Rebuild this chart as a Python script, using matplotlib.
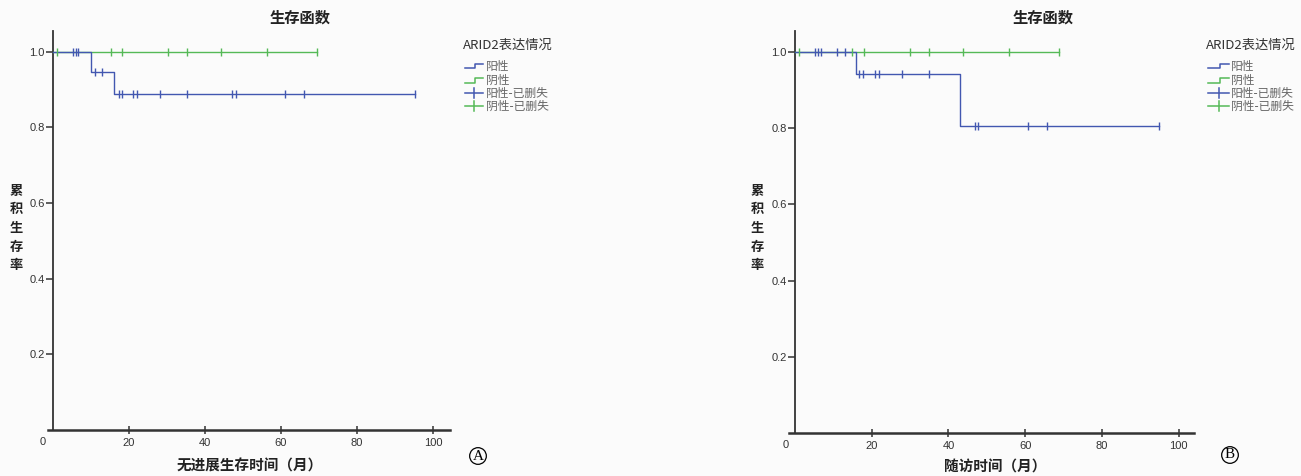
import matplotlib
matplotlib.use("Agg")
import matplotlib.pyplot as plt
from matplotlib.lines import Line2D

plt.rcParams['font.family'] = ['Noto Sans CJK SC', 'DejaVu Sans']

# ---------------- data ----------------
# Panel A (progression-free survival)
a_pos_step_t = [0, 10, 16, 95.3]
a_pos_step_s = [1.0, 0.947, 0.888, 0.888]
a_pos_cens_t = [5.3, 6.0, 6.7, 11.1, 13.0, 17.4, 18.2, 21.1, 22.0, 28.2, 35.2, 47.2, 48.1, 61.1, 66.1, 95.3]
a_pos_cens_s = [1.0, 1.0, 1.0, 0.947, 0.947, 0.888, 0.888, 0.888, 0.888, 0.888, 0.888, 0.888, 0.888, 0.888, 0.888, 0.888]
a_neg_step_t = [0, 69.5]
a_neg_step_s = [1.0, 1.0]
a_neg_cens_t = [1.1, 15.2, 18.2, 30.3, 35.3, 44.2, 56.3, 69.5]
a_neg_cens_s = [1.0] * 8

# Panel B (overall survival / follow-up)
b_pos_step_t = [0, 16, 43, 94.9]
b_pos_step_s = [1.0, 0.941, 0.806, 0.806]
b_pos_cens_t = [5.1, 6.0, 6.9, 11.0, 13.1, 16.8, 17.7, 20.9, 21.8, 27.9, 34.9, 46.9, 47.8, 60.8, 65.8, 94.9]
b_pos_cens_s = [1.0, 1.0, 1.0, 1.0, 1.0, 0.941, 0.941, 0.941, 0.941, 0.941, 0.941, 0.806, 0.806, 0.806, 0.806, 0.806]
b_neg_step_t = [0, 68.8]
b_neg_step_s = [1.0, 1.0]
b_neg_cens_t = [1.0, 14.9, 18.1, 29.9, 34.9, 43.8, 55.8, 68.8]
b_neg_cens_s = [1.0] * 8

y_ticks = [0.2, 0.4, 0.6, 0.8, 1.0]
y_ticklabels = ["0.2", "0.4", "0.6", "0.8", "1.0"]
x_ticks = [20, 40, 60, 80, 100]
x_ticklabels = ["20", "40", "60", "80", "100"]

title_text = "生存函数"
ylabel_text = "累积生存率"
xlabel_a = "无进展生存时间（月）"
xlabel_b = "随访时间（月）"
legend_title = "ARID2表达情况"
legend_labels = ["阳性", "阴性", "阳性-已删失", "阴性-已删失"]

BLUE = '#4257b0'
GREEN = '#55b957'
AXC = '#333333'
BG = '#fbfbfb'

W, H = 1301, 476
fig = plt.figure(figsize=(W / 100, H / 100), dpi=100, facecolor=BG)


def fx(x):
    return x / W


def fy(y):
    return 1 - y / H


def make_axes(l, r, b, t, xlim):
    ax = fig.add_axes([fx(l), fy(b), fx(r) - fx(l), (b - t) / H])
    ax.set_facecolor(BG)
    ax.set_xlim(*xlim)
    ax.set_ylim(0, 1.055)
    for s in ['top', 'right']:
        ax.spines[s].set_visible(False)
    ax.spines['left'].set_position(('data', 0))
    ax.spines['left'].set_color(AXC)
    ax.spines['bottom'].set_color(AXC)
    ax.spines['left'].set_linewidth(1.3)
    ax.spines['bottom'].set_linewidth(1.8)
    ax.set_yticks(y_ticks)
    ax.set_yticklabels(y_ticklabels, family='Liberation Sans', fontsize=8, color=AXC)
    ax.set_xticks(x_ticks)
    ax.set_xticklabels(x_ticklabels, family='Liberation Sans', fontsize=8, color=AXC)
    ax.tick_params(axis='y', length=5, width=1.1, color=AXC, pad=1)
    ax.tick_params(axis='x', length=6, width=1.1, color=AXC, pad=3, direction='inout')
    return ax


def draw_panel(ax, pos_t, pos_s, pos_ct, pos_cs, neg_t, neg_s, neg_ct, neg_cs):
    ax.step(neg_t, neg_s, where='post', color=GREEN, lw=1.0, zorder=3)
    ax.plot(neg_ct, neg_cs, ls='none', marker='|', ms=6, mew=1.0, color=GREEN, zorder=4)
    ax.step(pos_t, pos_s, where='post', color=BLUE, lw=1.0, zorder=3)
    ax.plot(pos_ct, pos_cs, ls='none', marker='|', ms=6, mew=1.0, color=BLUE, zorder=4)


axA = make_axes(48, 450, 430, 31, (-1.3, 104.5))
draw_panel(axA, a_pos_step_t, a_pos_step_s, a_pos_cens_t, a_pos_cens_s,
           a_neg_step_t, a_neg_step_s, a_neg_cens_t, a_neg_cens_s)
axB = make_axes(788.5, 1194, 433, 31, (-1.7, 104.0))
draw_panel(axB, b_pos_step_t, b_pos_step_s, b_pos_cens_t, b_pos_cens_s,
           b_neg_step_t, b_neg_step_s, b_neg_cens_t, b_neg_cens_s)

# "0" corner labels
fig.text(fx(43), fy(442), "0", family='Liberation Sans', fontsize=8, color=AXC, ha='center', va='center')
fig.text(fx(786), fy(445), "0", family='Liberation Sans', fontsize=8, color=AXC, ha='center', va='center')

# titles
fig.text(fx(300), fy(18), title_text, fontsize=11, fontweight='bold', ha='center', va='center', color='#222222')
fig.text(fx(1043), fy(18), title_text, fontsize=11, fontweight='bold', ha='center', va='center', color='#222222')

# y labels (stacked characters)
for xc in (16, 757):
    fig.text(fx(xc), fy(228), "\n".join(ylabel_text), fontsize=9.5, fontweight='bold',
             ha='center', va='center', linespacing=1.42, color='#222222')

# x labels
fig.text(fx(250), fy(466), xlabel_a, fontsize=10.5, fontweight='bold', ha='center', va='center', color='#222222')
fig.text(fx(995), fy(467), xlabel_b, fontsize=10.5, fontweight='bold', ha='center', va='center', color='#222222')

# circled panel letters
for (cx, cy, lab) in ((478, 456, "A"), (1230, 455, "B")):
    fig.text(fx(cx), fy(cy), lab, family='Liberation Serif', fontsize=11, ha='center', va='center',
             bbox=dict(boxstyle='circle,pad=0.12', fc='none', ec='black', lw=0.9))


# legends
def legend(x0, x1, xt, y_title, ys):
    fig.text(fx(x0 - 2), fy(y_title), legend_title, fontsize=9.5, ha='left', va='center', color='#333333')
    cols = [BLUE, GREEN, BLUE, GREEN]
    for i, (yy, c, lab) in enumerate(zip(ys, cols, legend_labels)):
        if i < 2:
            xm = x0 + (x1 - x0) * 0.55
            xs = [x0, xm, xm, x1]
            ysym = [yy + 2.5, yy + 2.5, yy - 2.5, yy - 2.5]
            fig.add_artist(Line2D([fx(v) for v in xs], [fy(v) for v in ysym], color=c, lw=1.1,
                                  transform=fig.transFigure))
        else:
            fig.add_artist(Line2D([fx(x0), fx(x1)], [fy(yy), fy(yy)], color=c, lw=1.1,
                                  transform=fig.transFigure))
            xm = (x0 + x1) / 2
            fig.add_artist(Line2D([fx(xm), fx(xm)], [fy(yy - 5), fy(yy + 5)], color=c, lw=1.1,
                                  transform=fig.transFigure))
        fig.text(fx(xt), fy(yy), lab, fontsize=8.5, ha='left', va='center', color='#666666')


legend(465, 483, 486, 45, [66, 80, 93, 106])
legend(1208, 1229, 1231, 45, [66, 80, 93, 106])

fig.savefig("out.png", dpi=100, facecolor=BG)
